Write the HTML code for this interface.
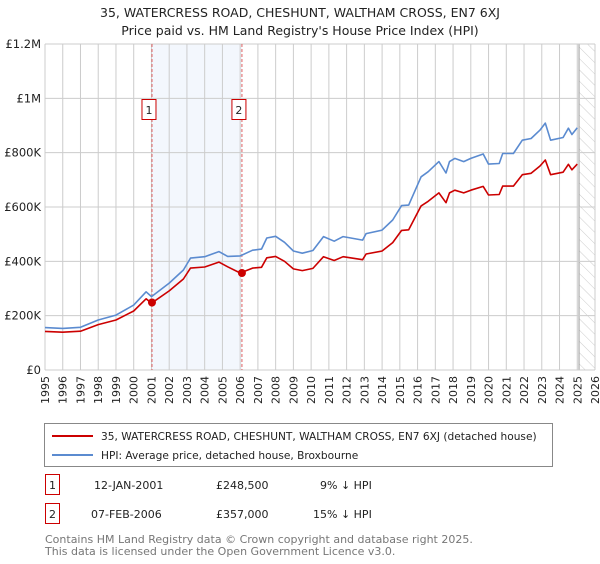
<!DOCTYPE html>
<html><head><meta charset="utf-8"><style>
body{margin:0;background:#fff;font-family:"DejaVu Sans","Liberation Sans",sans-serif;}
</style></head><body>
<svg width="600" height="560" xmlns="http://www.w3.org/2000/svg" font-family="DejaVu Sans, Liberation Sans, sans-serif">
<defs><pattern id="hatch" width="8" height="8" patternUnits="userSpaceOnUse" patternTransform="rotate(-45)"><line x1="0" y1="0" x2="0" y2="8" stroke="#ccc" stroke-width="1"/></pattern></defs>
<text x="300" y="17" text-anchor="middle" font-size="12.5" fill="#222">35, WATERCRESS ROAD, CHESHUNT, WALTHAM CROSS, EN7 6XJ</text>
<text x="300" y="35" text-anchor="middle" font-size="12.5" fill="#222">Price paid vs. HM Land Registry's House Price Index (HPI)</text>
<g id="plot"></g>
<g>
<rect x="44.5" y="423.5" width="508" height="43" fill="#fff" stroke="#888"/>
<line x1="52" y1="436" x2="93" y2="436" stroke="#cc0000" stroke-width="2"/>
<text x="101" y="440" font-size="10.6" fill="#222">35, WATERCRESS ROAD, CHESHUNT, WALTHAM CROSS, EN7 6XJ (detached house)</text>
<line x1="52" y1="455" x2="93" y2="455" stroke="#5b8bd0" stroke-width="2"/>
<text x="101" y="459" font-size="10.6" fill="#222">HPI: Average price, detached house, Broxbourne</text>
</g>
<g font-size="11" fill="#222">
<rect x="45.5" y="474.5" width="14" height="20" fill="#fff" stroke="#cc0000"/>
<text x="52.5" y="489" text-anchor="middle">1</text>
<text x="94" y="489">12-JAN-2001</text><text x="216" y="489">£248,500</text><text x="320" y="489">9% ↓ HPI</text>
<rect x="45.5" y="503.5" width="14" height="20" fill="#fff" stroke="#cc0000"/>
<text x="52.5" y="518" text-anchor="middle">2</text>
<text x="91" y="518">07-FEB-2006</text><text x="216" y="518">£357,000</text><text x="313" y="518">15% ↓ HPI</text>
</g>
<text x="45" y="543" font-size="11" fill="#777">Contains HM Land Registry data © Crown copyright and database right 2025.</text>
<text x="45" y="555" font-size="11" fill="#777">This data is licensed under the Open Government Licence v3.0.</text>
</svg>
<script>
const times=[1995,1996,1997,1998,1999,2000,2000.7,2001,2002,2002.8,2003.2,2004,2004.8,2005.3,2006,2006.7,2007.2,2007.5,2008,2008.5,2009,2009.5,2010.1,2010.7,2011.3,2011.8,2012.9,2013.1,2014.0,2014.6,2015.1,2015.5,2016.2,2016.6,2017.2,2017.6,2017.8,2018.1,2018.6,2019.0,2019.7,2020.0,2020.6,2020.8,2021.4,2021.9,2022.4,2022.9,2023.2,2023.5,2024.2,2024.5,2024.7,2025.0];
const hpiValues=[156,153,157,184,202,239,288,270,320,368,412,417,436,418,420,441,445,486,492,470,438,430,440,491,474,491,478,502,515,552,605,607,711,730,767,725,767,779,767,779,795,758,760,797,797,846,852,883,909,846,856,890,867,892];
const propertyValues=[142,139,143,167,184,217,262,246,291,335,375,379,397,380,357,375,378,413,418,400,372,366,374,417,403,417,406,427,438,469,514,516,604,621,652,616,652,662,652,662,676,644,646,677,677,719,724,751,773,719,728,757,737,758];
const saleTimes=[2001.03,2006.1];
const salePrices=[248.5,357];
const saleLabels=["1","2"];
const yTicks=[0,200,400,600,800,1000,1200];
const yTickLabels=["£0","£200K","£400K","£600K","£800K","£1M","£1.2M"];
const xTicks=[];for(let y=1995;y<=2026;y++)xTicks.push(y);

const L=45,R=595,T=44,B=370;
const xs=t=>L+(t-1995)/(2026-1995)*(R-L);
const ys=v=>B-v/1200*(B-T);
const NS="http://www.w3.org/2000/svg";
const g=document.getElementById('plot');
function mk(tag,at,parent){const e=document.createElementNS(NS,tag);for(const k in at)e.setAttribute(k,at[k]);(parent||g).appendChild(e);return e;}

const shade=mk('rect',{x:xs(saleTimes[0]),y:T,width:xs(saleTimes[1])-xs(saleTimes[0]),height:B-T,fill:'#eef3fc',opacity:0.7});


const hatch=mk('rect',{x:xs(2025.1),y:T,width:R-xs(2025.1),height:B-T,fill:'url(#hatch)'});


mk('line',{x1:xs(2025.1),x2:xs(2025.1),y1:T,y2:B,stroke:'#999','stroke-width':1});

xTicks.forEach(t=>{
  mk('line',{x1:xs(t),x2:xs(t),y1:T,y2:B,stroke:'#cccccc','stroke-width':1});
  const tx=mk('text',{x:0,y:0,transform:`translate(${xs(t)+4},${B+6}) rotate(-90)`,'text-anchor':'end','font-size':11,fill:'#222'});
  tx.textContent=t;
  
  
});
yTicks.forEach((v,i)=>{
  mk('line',{x1:L,x2:R,y1:ys(v),y2:ys(v),stroke:'#cccccc','stroke-width':1});
  const tx=mk('text',{x:L-4,y:ys(v)+4,'text-anchor':'end','font-size':11.5,fill:'#222'});
  tx.textContent=yTickLabels[i];
  
  
});

saleTimes.forEach((t,i)=>{
  mk('line',{x1:xs(t),x2:xs(t),y1:T,y2:B,stroke:'#e06060','stroke-width':1,'stroke-dasharray':'3,2'});
  const bx=mk('rect',{x:xs(t)-10,y:99.5,width:14,height:20,fill:'#fff',stroke:'#cc0000'});
  
  
  const tx=mk('text',{x:xs(t)-3,y:114,'text-anchor':'middle','font-size':11,fill:'#222'});
  tx.textContent=saleLabels[i];
  
  
});

function line(vals,color,name){
  const d=times.map((t,i)=>(i?'L':'M')+xs(t).toFixed(1)+','+ys(vals[i]).toFixed(1)).join('');
  const p=mk('path',{d,fill:'none',stroke:color,'stroke-width':1.6,'stroke-linejoin':'round'});
  
  
}
line(hpiValues,'#5b8bd0','hpi-line');
line(propertyValues,'#cc0000','property-line');
saleTimes.forEach((t,i)=>{
  const c=mk('circle',{cx:xs(t),cy:ys(salePrices[i]),r:4,fill:'#cc0000'});
  
  
});
</script>
</body></html>
